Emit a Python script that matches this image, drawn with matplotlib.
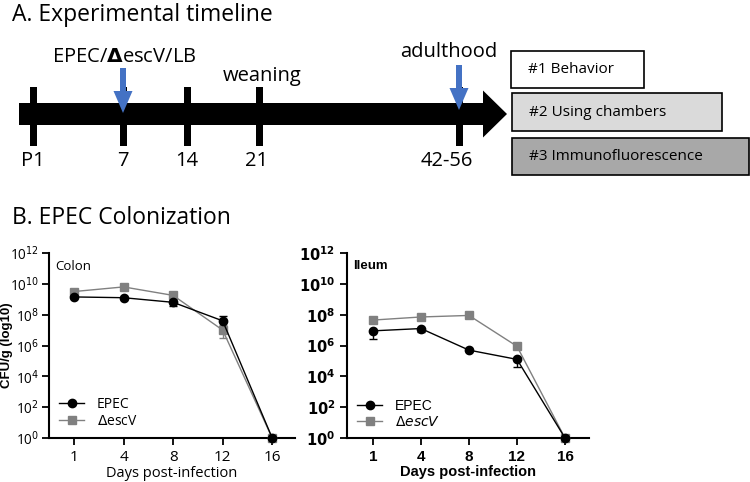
import numpy as np
import matplotlib.pyplot as plt
from matplotlib.patches import FancyArrow, Rectangle

# timeline
tl_labels = ['P1', '7', '14', '21', '42-56']
tl_x = [33, 123, 187, 259, 459]          # pixel positions on the drawn timeline
tl_lab_x = [33, 123, 187, 257, 447]
box_texts = ['#1 Behavior', '#2 Using chambers', '#3 Immunofluorescence']
box_colors = ['white', '#dadada', '#a8a8a8']

# colonization data (log10 CFU/g)
days = ['1', '4', '8', '12', '16']
colon_epec = [9.15, 9.1, 8.8, 7.6, 0.0]
colon_escv = [9.5, 9.8, 9.25, 7.0, 0.0]
colon_epec_lo = [0.0, 0.0, 0.25, 0.0, 0.0]
colon_epec_hi = [0.0, 0.0, 0.0, 0.3, 0.0]
colon_escv_lo = [0.0, 0.0, 0.0, 0.5, 0.0]
colon_escv_hi = [0.0, 0.0, 0.0, 0.3, 0.0]

ileum_epec = [6.95, 7.1, 5.7, 5.1, 0.0]
ileum_escv = [7.65, 7.85, 7.95, 5.95, 0.0]
ileum_epec_lo = [0.5, 0.25, 0.0, 0.5, 0.0]
ileum_epec_hi = [0.0, 0.0, 0.0, 0.0, 0.0]
ileum_escv_lo = [0.0, 0.0, 0.0, 0.0, 0.0]
ileum_escv_hi = [0.0, 0.0, 0.0, 0.0, 0.0]

W, H = 750, 482
fig = plt.figure(figsize=(7.5, 4.82), dpi=100)
plt.rcParams['font.family'] = ['Open Sans', 'DejaVu Sans']

# ---------- A. timeline (drawn in pixel space) ----------
ax0 = fig.add_axes([0, 0, 1, 1])
ax0.set_xlim(0, W)
ax0.set_ylim(H, 0)
ax0.axis('off')

ax0.text(12, 15, 'A. Experimental timeline', fontsize=16.5, va='center', ha='left')
ax0.add_patch(FancyArrow(19, 114, 488, 0, width=22, head_width=47, head_length=24,
                         length_includes_head=True, color='black', lw=0))
for x in tl_x:
    ax0.add_patch(Rectangle((x - 3.5, 87), 7, 59, color='black', lw=0))
for x, lab in zip(tl_lab_x, tl_labels):
    ax0.text(x, 161, lab, fontsize=14.5, ha='center', va='center')

blue = '#4472c4'
for x, y0, y1 in [(123, 68, 113), (459, 65, 110)]:
    ax0.add_patch(FancyArrow(x, y0, 0, y1 - y0, width=6, head_width=19, head_length=22,
                             length_includes_head=True, color=blue, lw=0, zorder=5))

ax0.text(124, 57, r'EPEC/$\mathbf{\Delta}$escV/LB', fontsize=14.5, ha='center', va='center')
ax0.text(262, 76, 'weaning', fontsize=14.5, ha='center', va='center')
ax0.text(449, 52, 'adulthood', fontsize=14.5, ha='center', va='center')

boxes = [(511, 51, 133, 37), (512, 93, 210, 38), (512, 138, 237, 37)]
for (bx, by, bw, bh), t, c in zip(boxes, box_texts, box_colors):
    ax0.add_patch(Rectangle((bx, by), bw, bh, facecolor=c, edgecolor='black', lw=1.2))
    ax0.text(bx + 17, by + bh / 2, t, fontsize=11, ha='left', va='center')

ax0.text(12, 218, 'B. EPEC Colonization', fontsize=16.5, va='center', ha='left')


# ---------- B. colonization panels ----------
def panel(rect, epec, escv, e_lo, e_hi, s_lo, s_hi, name, bold, xl):
    ax = fig.add_axes(rect)
    x = np.arange(len(days))
    ep = 10.0 ** np.array(epec)
    es = 10.0 ** np.array(escv)
    ep_err = [ep - 10.0 ** (np.array(epec) - e_lo), 10.0 ** (np.array(epec) + e_hi) - ep]
    es_err = [es - 10.0 ** (np.array(escv) - s_lo), 10.0 ** (np.array(escv) + s_hi) - es]
    c_s = ax.errorbar(x, es, yerr=es_err, color='#808080', marker='s', ms=6, lw=1,
                      capsize=3, elinewidth=1, clip_on=False, zorder=3)
    c_e = ax.errorbar(x, ep, yerr=ep_err, color='black', marker='o', ms=6, lw=1,
                      capsize=3, elinewidth=1, clip_on=False, zorder=4)
    ax.set_yscale('log')
    ax.set_ylim(1, 1e12)
    ax.set_xlim(xl)
    ax.set_yticks([10.0 ** k for k in range(0, 13, 2)])
    ax.minorticks_off()
    ax.set_xticks(x)
    ax.spines[['top', 'right']].set_visible(False)
    ax.spines[['left', 'bottom']].set_linewidth(1.5)
    ax.tick_params(width=1.3, length=5, direction='out')
    w = 'bold' if bold else 'normal'
    if bold:
        fam = ['Liberation Sans', 'DejaVu Sans']
        ylabs = [r'$\mathbf{10^{%d}}$' % k for k in range(0, 13, 2)]
        ax.set_yticklabels(ylabs, fontsize=10.5, family=fam, fontweight=w)
    else:
        fam = ['Open Sans', 'DejaVu Sans']
        ylabs = [r'10$^{%d}$' % k for k in range(0, 13, 2)]
        ax.set_yticklabels(ylabs, fontsize=9.8, family=fam, fontweight=w)
        ax.tick_params(axis='y', pad=2)
    ax.set_xticklabels(days, fontsize=11, family=fam, fontweight=w)
    ax.set_xlabel('Days post-infection', fontsize=10.5, family=fam, fontweight=w, labelpad=1)
    ax.text(0.025, 0.96, name, transform=ax.transAxes, fontsize=9.5, family=fam,
            fontweight=w, va='top', ha='left')
    if bold:
        labs = ['EPEC', r'$\mathit{\Delta escV}$']
    else:
        labs = ['EPEC', r'$\Delta$escV']
    ax.legend([c_e.lines[0], c_s.lines[0]], labs, loc='lower left', frameon=False,
              bbox_to_anchor=(0.02, 0.02), handlelength=1.8, handletextpad=0.9,
              labelspacing=0.1, borderaxespad=0,
              prop={'family': fam, 'size': 10})
    return ax


axL = panel([49 / W, 1 - 438 / H, 246 / W, 185 / H], colon_epec, colon_escv,
            colon_epec_lo, colon_epec_hi, colon_escv_lo, colon_escv_hi,
            'Colon', False, (-0.505, 4.46))
axL.set_ylabel('CFU/g (log10)', fontsize=9.5, fontweight='bold',
               family=['Liberation Sans', 'DejaVu Sans'])
axL.yaxis.set_label_coords(-0.148, 0.5)
axR = panel([347 / W, 1 - 438 / H, 242 / W, 185 / H], ileum_epec, ileum_escv,
            ileum_epec_lo, ileum_epec_hi, ileum_escv_lo, ileum_escv_hi,
            'Ileum', True, (-0.54, 4.5))

fig.savefig('out.png', dpi=100)
